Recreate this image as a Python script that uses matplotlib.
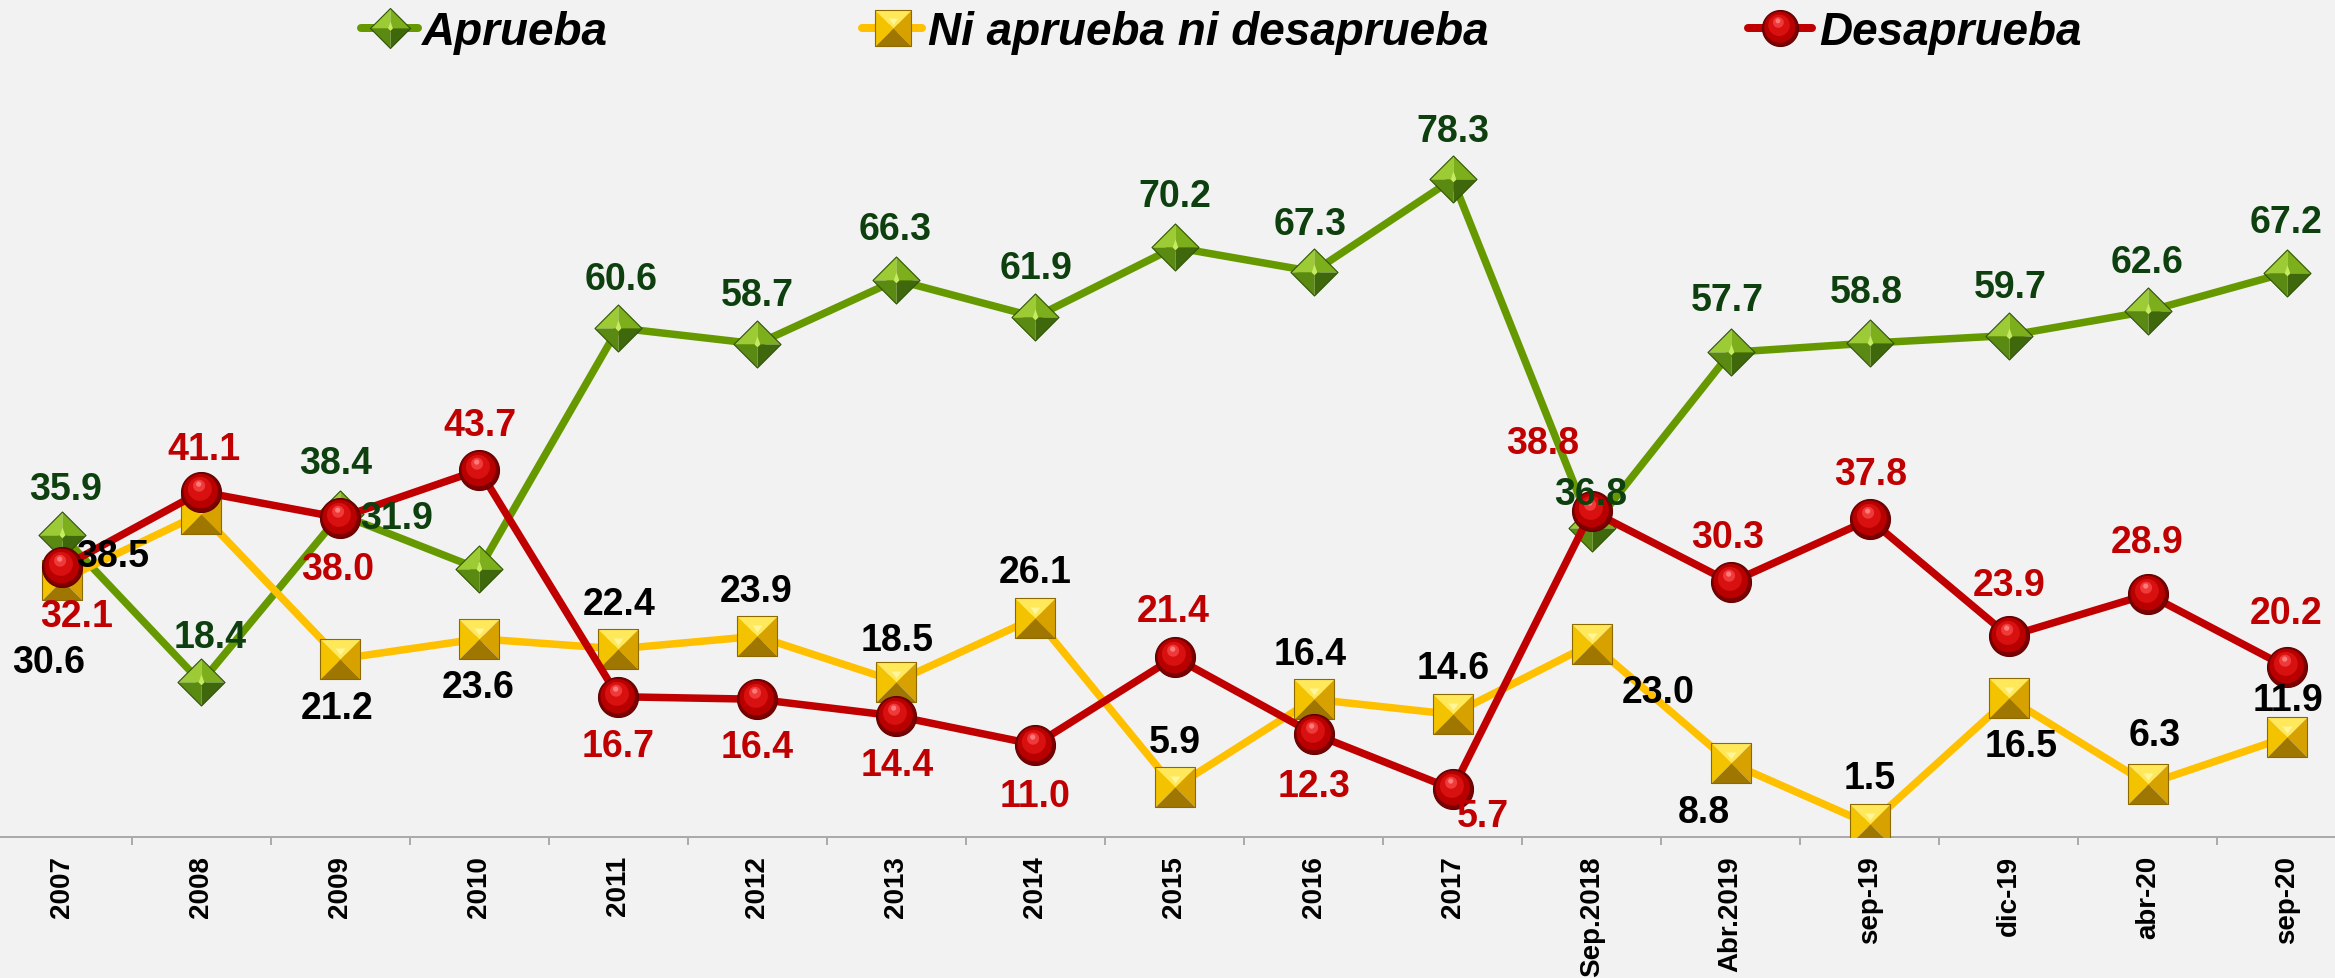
import numpy as np
import matplotlib
matplotlib.use("Agg")
import matplotlib.pyplot as plt
from matplotlib.path import Path
from matplotlib.lines import Line2D

# ---- data ----
periods = ["2007", "2008", "2009", "2010", "2011", "2012", "2013", "2014", "2015",
           "2016", "2017", "Sep.2018", "Abr.2019", "sep-19", "dic-19", "abr-20", "sep-20"]
aprueba = [35.9, 18.4, 38.4, 31.9, 60.6, 58.7, 66.3, 61.9, 70.2,
           67.3, 78.3, 36.8, 57.7, 58.8, 59.7, 62.6, 67.2]
ni_ni = [30.6, 38.5, 21.2, 23.6, 22.4, 23.9, 18.5, 26.1, 5.9,
         16.4, 14.6, 23.0, 8.8, 1.5, 16.5, 6.3, 11.9]
desaprueba = [32.1, 41.1, 38.0, 43.7, 16.7, 16.4, 14.4, 11.0, 21.4,
              12.3, 5.7, 38.8, 30.3, 37.8, 23.9, 28.9, 20.2]
series_names = ["Aprueba", "Ni aprueba ni desaprueba", "Desaprueba"]

# label placement (pixels, x right / y up) for each value label
off_aprueba = [(4, 46), (9, 45), (-4, 51), (-83, 51), (3, 49), (0, 49), (-1, 51), (1, 49), (0, 51),
               (-3, 48), (0, 48), (-1, 34), (-3, 52), (-3, 51), (1, 49), (-1, 49), (-1, 51)]
off_ni = [(-13, -82), (-88, -42), (-3, -49), (-1, -48), (1, 45), (-1, 45), (1, 42), (0, 46), (0, 45),
          (-3, 45), (1, 46), (67, -48), (-27, -49), (0, 46), (12, -48), (7, 49), (1, 37)]
off_des = [(15, -49), (3, 43), (-3, -51), (1, 45), (0, -49), (0, -48), (1, -49), (0, -51), (-1, 46),
           (1, -52), (30, -27), (-49, 68), (-3, 45), (1, 45), (0, 51), (-1, 52), (-1, 54)]

BG = "#F2F2F2"
W, H = 2335, 979
PX = 72 / 100.0  # points per pixel at dpi=100


def facet_marker(polys):
    """Compound marker path; two anchor points pin the scale to the unit box."""
    verts = [(1, 1), (-1, -1)]
    codes = [Path.MOVETO, Path.MOVETO]
    for poly in polys:
        verts += list(poly) + [poly[0]]
        codes += [Path.MOVETO] + [Path.LINETO] * (len(poly) - 1) + [Path.CLOSEPOLY]
    return Path(verts, codes)


def circle_poly(cx, cy, r, n=64):
    t = np.linspace(0, 2 * np.pi, n, endpoint=False)
    return [(cx + r * np.cos(a), cy + r * np.sin(a)) for a in t]


# diamond facets (light top-left, dark bottom-right)
diamond_layers = [
    ([(0, 0), (-1, 0), (0, 1)], "#9CCB35"),
    ([(0, 0), (0, 1), (1, 0)], "#7DAE1C"),
    ([(0, 0), (1, 0), (0, -1)], "#3E680B"),
    ([(0, 0), (0, -1), (-1, 0)], "#5A8A12"),
    ([(-0.12, 0.0), (0, 0.35), (0.12, 0.0), (0, -0.12)], "#C6EA63"),
]
square_layers = [
    ([(0, 0), (-1, 1), (1, 1)], "#FFE85A"),
    ([(0, 0), (-1, 1), (-1, -1)], "#F3C300"),
    ([(0, 0), (1, 1), (1, -1)], "#D7A200"),
    ([(0, 0), (-1, -1), (1, -1)], "#9E7600"),
    ([(-0.25, 0.55), (0, 0.2), (0.25, 0.55)], "#FFF59A"),
]
circle_layers = [
    (circle_poly(0, 0, 1.0), "#7C0000"),
    (circle_poly(-0.04, 0.07, 0.86), "#B80000"),
    (circle_poly(-0.08, 0.18, 0.6), "#D81010"),
    (circle_poly(-0.12, 0.34, 0.3), "#F03A3A"),
    (circle_poly(-0.14, 0.42, 0.13), "#FF7A7A"),
]


def draw_markers(target, xs, ys, layers, size, edge, transform=None, zorder=5):
    outline = [layers[0][0]]
    if layers is square_layers:
        outline = [[(-1, -1), (1, -1), (1, 1), (-1, 1)]]
    if layers is diamond_layers:
        outline = [[(0, 1), (1, 0), (0, -1), (-1, 0)]]
    passes = [dict(marker=facet_marker([poly]), markerfacecolor=col,
                   markeredgecolor="none") for poly, col in layers]
    passes.append(dict(marker=facet_marker(outline), markerfacecolor="none",
                       markeredgecolor=edge, markeredgewidth=0.8))
    for p in passes:
        kw = dict(linestyle="none", markersize=size, zorder=zorder, **p)
        if transform is None:
            target.plot(xs, ys, **kw)
        else:
            target.add_artist(Line2D(xs, ys, transform=transform, **kw))


plt.rcParams["font.family"] = ["Liberation Sans", "DejaVu Sans"]

fig = plt.figure(figsize=(W / 100, H / 100), dpi=100, facecolor=BG)
ax_left, ax_right = -7.5, 2356.5
ax_bottom, ax_top = 838, 82
ax = fig.add_axes([ax_left / W, (H - ax_bottom) / H,
                   (ax_right - ax_left) / W, (ax_bottom - ax_top) / H])
ax.set_facecolor(BG)

x = np.arange(len(periods))
ax.set_xlim(-0.5, len(periods) - 0.5)
ax.set_ylim(0, 90)

styles = [
    (aprueba, "#669900", diamond_layers, 47 * PX, "#2F5208", "#0E3F0E", off_aprueba),
    (ni_ni, "#FFC000", square_layers, 40 * PX, "#8C6A00", "#000000", off_ni),
    (desaprueba, "#C00000", circle_layers, 40 * PX, "#600000", "#C00000", off_des),
]

for i, (vals, lc, layers, ms, edge, tc, offs) in enumerate(styles):
    z = 3 + i * 2
    ax.plot(x, vals, color=lc, lw=7.5 * PX, solid_capstyle="round", zorder=z)
    draw_markers(ax, x, vals, layers, ms, edge, zorder=z + 0.5)

for vals, lc, layers, ms, edge, tc, offs in styles:
    for xi, v, (dx, dy) in zip(x, vals, offs):
        ax.annotate(f"{v:.1f}", (xi, v), xytext=(dx, dy), textcoords="offset pixels",
                    ha="center", va="center", fontsize=27, fontweight="bold",
                    color=tc, zorder=20)

# axes styling
for s in ["top", "left", "right"]:
    ax.spines[s].set_visible(False)
ax.spines["bottom"].set_color("#ABABAB")
ax.spines["bottom"].set_linewidth(2 * PX)
ax.set_yticks([])
ax.set_xticks(x)
ax.set_xticklabels(periods, rotation=90, fontsize=20, fontweight="bold")
ax.set_xticks(np.arange(0.5, len(periods) - 1, 1), minor=True)
ax.tick_params(axis="x", which="major", length=0, pad=18 * PX)
ax.tick_params(axis="x", which="minor", length=8 * PX, width=2 * PX, color="#ABABAB")

# legend across the top
legend_items = [
    (series_names[0], "#669900", diamond_layers, 40 * PX, "#2F5208", 361, 418, 390, 422),
    (series_names[1], "#FFC000", square_layers, 36 * PX, "#8C6A00", 862, 922, 893, 928),
    (series_names[2], "#C00000", circle_layers, 36 * PX, "#600000", 1748, 1812, 1780, 1819),
]
ly = (H - 29) / H
for name, lc, layers, ms, edge, x0, x1, xm, xt in legend_items:
    fig.add_artist(Line2D([x0 / W, x1 / W], [ly, ly], transform=fig.transFigure,
                          color=lc, lw=8 * PX, solid_capstyle="round", zorder=5))
    draw_markers(fig, [xm / W], [ly], layers, ms, edge, transform=fig.transFigure, zorder=6)
    fig.text(xt / W, (H - 45) / H, name, ha="left", va="baseline", fontsize=33,
             fontweight="bold", fontstyle="italic", color="black")

fig.savefig("out.png", dpi=100, facecolor=BG)
